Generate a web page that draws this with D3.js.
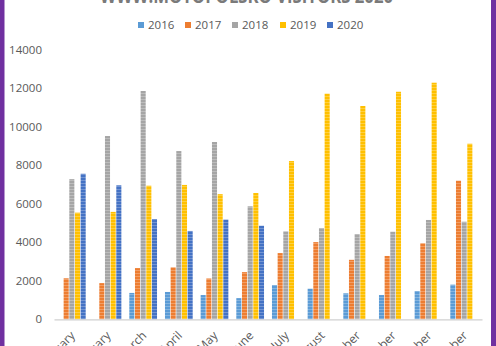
<!DOCTYPE html>
<html>
<head>
<meta charset="utf-8">
<script src="https://cdn.jsdelivr.net/npm/d3@7"></script>
<style>
  html, body { margin: 0; padding: 0; background: #fff; }
  svg { display: block; }
</style>
</head>
<body>
<div id="chart"></div>
<script>
const months = ['January', 'February', 'March', 'April', 'May', 'June', 'July',
    'August', 'September', 'October', 'November', 'December'];
const years = ['2016', '2017', '2018', '2019', '2020'];
const v2016 = [0, 0, 1370, 1420, 1260, 1100, 1780, 1590, 1350, 1260, 1470, 1800];
const v2017 = [2130, 1880, 2660, 2700, 2120, 2450, 3440, 4010, 3090, 3290, 3950, 7200];
const v2018 = [7280, 9520, 11860, 8740, 9210, 5870, 4570, 4740, 4430, 4550, 5160, 5070];
const v2019 = [5540, 5580, 6940, 6980, 6500, 6560, 8220, 11720, 11080, 11820, 12290, 9120];
const v2020 = [7560, 6960, 5210, 4590, 5180, 4860, 0, 0, 0, 0, 0, 0];
const yTicks = [0, 2000, 4000, 6000, 8000, 10000, 12000, 14000];
const colors = ['#5B9BD5', '#ED7D31', '#A5A5A5', '#FFC000', '#4472C4'];

const series = [v2016, v2017, v2018, v2019, v2020];
const data = months.map((m, i) => {
    const row = { month: m };
    years.forEach((yr, j) => { row[yr] = series[j][i]; });
    return row;
});

const W = 496, H = 346;

const svg = d3.select('#chart').append('svg')
    .attr('width', W)
    .attr('height', H);

svg.append('rect').attr('width', W).attr('height', H).attr('fill', '#fff');

// striped fill like the source image
const defs = svg.append('defs');
colors.forEach((c, i) => {
    const p = defs.append('pattern')
        .attr('id', 'fill' + i)
        .attr('patternUnits', 'userSpaceOnUse')
        .attr('width', 6)
        .attr('height', 3);
    p.append('rect').attr('width', 6).attr('height', 3).attr('fill', c);
    p.append('rect').attr('width', 6).attr('height', 1).attr('fill', '#fff').attr('opacity', 0.25);
});

const x = d3.scaleBand()
    .domain(months)
    .range([54, 482])
    .paddingInner(0.206)
    .paddingOuter(0.103);

const x1 = d3.scaleBand()
    .domain(years)
    .range([0, x.bandwidth()])
    .padding(0);

const y = d3.scaleLinear()
    .domain([0, 14000])
    .range([319.3, 49.8]);

const font = '"Open Sans", "Liberation Sans", sans-serif';

// title (cut off at the top in the original)
svg.append('text')
    .attr('x', 246.5)
    .attr('y', 3)
    .attr('text-anchor', 'middle')
    .attr('font-family', font)
    .attr('font-size', 19)
    .attr('font-weight', 'bold')
    .attr('fill', '#7a7a7a')
    .attr('textLength', 293)
    .attr('lengthAdjust', 'spacingAndGlyphs')
    .text('WWW.MOTOPOLSKO VISITORS 2020');

// legend
const legendX = [138, 185, 232, 280, 327];
const legend = svg.append('g').attr('class', 'legend');
years.forEach((yr, i) => {
    legend.append('rect')
        .attr('x', legendX[i])
        .attr('y', 22)
        .attr('width', 6)
        .attr('height', 6)
        .attr('fill', colors[i]);
    legend.append('text')
        .attr('x', legendX[i] + 10)
        .attr('y', 29)
        .attr('font-family', font)
        .attr('font-size', 11.5)
        .attr('fill', '#595959')
        .text(yr);
});

// y axis labels
const yAxis = svg.append('g')
    .attr('class', 'y axis')
    .attr('transform', 'translate(42,0)')
    .call(d3.axisLeft(y).tickValues(yTicks).tickSize(0).tickPadding(0).tickFormat(d3.format('d')));
yAxis.select('.domain').remove();
yAxis.selectAll('text')
    .attr('font-family', font)
    .attr('font-size', 11.5)
    .attr('fill', '#595959');

// bars
const groups = svg.append('g').selectAll('g.month')
    .data(data)
    .enter()
    .append('g')
    .attr('class', 'month')
    .attr('transform', d => 'translate(' + x(d.month) + ',0)');

groups.selectAll('rect')
    .data(d => years.map((yr, j) => ({ key: yr, idx: j, value: d[yr] })).filter(e => e.value > 0))
    .enter()
    .append('rect')
    .attr('x', d => x1(d.key) + 0.3)
    .attr('width', x1.bandwidth() - 0.6)
    .attr('y', d => y(d.value))
    .attr('height', d => y(0) - y(d.value))
    .attr('fill', d => 'url(#fill' + d.idx + ')');

// x axis
const xAxis = svg.append('g')
    .attr('class', 'x axis')
    .attr('transform', 'translate(0,' + y(0) + ')')
    .call(d3.axisBottom(x).tickSize(0).tickPadding(0));
xAxis.select('.domain')
    .attr('stroke', '#d0d0d0')
    .attr('stroke-width', 1.2);
xAxis.selectAll('.tick text')
    .attr('font-family', font)
    .attr('font-size', 12)
    .attr('fill', '#595959')
    .attr('text-anchor', 'end')
    .attr('dy', 0)
    .attr('transform', 'translate(4,17) rotate(-45)');

// purple frame
svg.append('rect').attr('x', 0).attr('y', 0).attr('width', 4.5).attr('height', H).attr('fill', '#7030A0');
svg.append('rect').attr('x', 491).attr('y', 0).attr('width', 5).attr('height', H).attr('fill', '#7030A0');
</script>
</body>
</html>
